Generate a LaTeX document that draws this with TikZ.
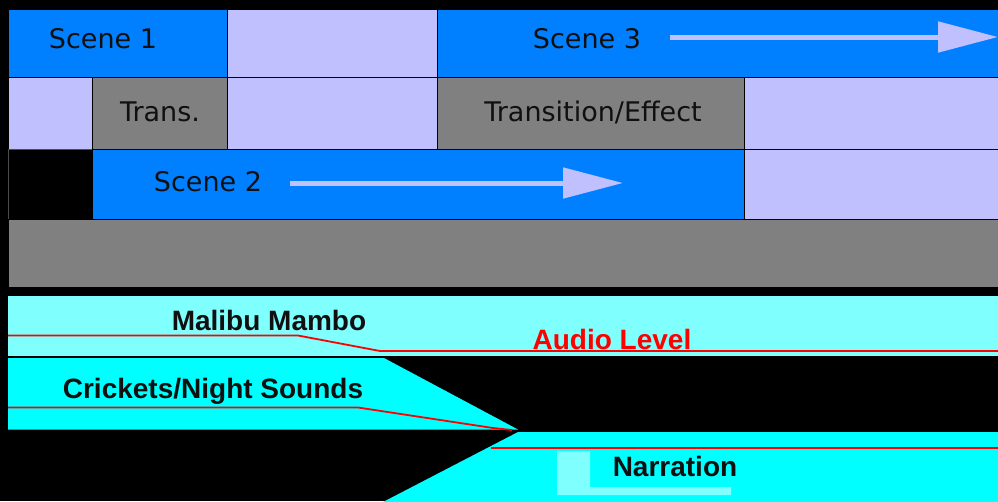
\documentclass[tikz,border=0pt]{standalone}
\usepackage{fontspec}
\setmainfont{DejaVu Sans}
\newfontfamily\boldlab{Liberation Sans}[BoldFont={Liberation Sans Bold}]
\usetikzlibrary{arrows.meta}
\definecolor{sblue}{RGB}{0,128,255}
\definecolor{lav}{RGB}{192,192,255}
\definecolor{tgrey}{RGB}{128,128,128}
\definecolor{lcyan}{RGB}{128,255,255}
\definecolor{acyan}{RGB}{0,255,255}
\definecolor{alred}{RGB}{255,0,0}
\definecolor{txt}{RGB}{16,16,16}
\tikzset{
  cell/.style={draw=black, line width=1pt},
  vlab/.style={font=\fontsize{27}{30}\selectfont, text=txt, inner sep=0pt},
  alab/.style={font=\boldlab\bfseries\fontsize{28}{30}\selectfont, text=txt, inner sep=0pt},
  level/.style={draw=alred, line width=1.8pt},
  sarrow/.style={draw=lav, line width=5pt, -{Triangle[length=60pt,width=30pt]}}
}
\begin{document}
\begin{tikzpicture}[x=1pt,y=-1pt]
\fill[black] (0,0) rectangle (998,501);
\useasboundingbox (0,0) rectangle (998,501);
% row 1
\filldraw[cell, fill=sblue] (8,9.5) rectangle (227.5,77);
\filldraw[cell, fill=lav] (227.5,9.5) rectangle (437.5,77);
\filldraw[cell, fill=sblue] (437.5,9.5) rectangle (1000,77);
% row 2
\filldraw[cell, fill=lav] (8,77) rectangle (92.5,149);
\filldraw[cell, fill=tgrey] (92.5,77) rectangle (227.5,149);
\filldraw[cell, fill=lav] (227.5,77) rectangle (437.5,149);
\filldraw[cell, fill=tgrey] (437.5,77) rectangle (744.5,149);
\filldraw[cell, fill=lav] (744.5,77) rectangle (1000,149);
% row 3
\filldraw[draw=black!70, line width=1pt, fill=black] (8,149) rectangle (92.5,219);
\filldraw[cell, fill=sblue] (92.5,149) rectangle (744.5,219);
\filldraw[cell, fill=lav] (744.5,149) rectangle (1000,219);
% row 4
\filldraw[cell, fill=tgrey] (8,219) rectangle (1000,287);
% labels
\node[vlab] (s1) at (103,39) {Scene 1};
\node[vlab] (s3) at (587,39) {Scene 3};
\node[vlab] (tr) at (160,112) {Trans.};
\node[vlab] (te) at (593,112) {Transition/Effect};
\node[vlab] (s2) at (208,182) {Scene 2};
% arrows
\coordinate (a3s) at (670,37);
\coordinate (a3e) at (998,37);
\coordinate (a2s) at (290,183);
\coordinate (a2e) at (623,183);
\draw[sarrow] (a3s) -- (a3e);
\draw[sarrow] (a2s) -- (a2e);
% audio tracks
\fill[lcyan] (8,296) rectangle (1000,356);
\fill[acyan] (8,358) -- (384,358) -- (518,429.5) -- (8,429.5) -- cycle;
\fill[acyan] (383,502) -- (518,432) -- (1000,432) -- (1000,502) -- cycle;
\fill[lcyan] (557,451) -- (590,451) -- (590,487) -- (731,487) -- (731,495) -- (557,495) -- cycle;
% level lines
\coordinate (m0) at (8,335.5);
\coordinate (m1) at (298,335.5);
\coordinate (m2) at (380,351);
\coordinate (m3) at (1000,351);
\draw[level] (m0) -- (m1) -- (m2) -- (m3);
\coordinate (c0) at (8,407.5);
\coordinate (c1) at (358,407.5);
\coordinate (c2) at (493,428);
\coordinate (c3) at (512,430);
\draw[level] (c0) -- (c1) -- (c2) -- (c3);
\coordinate (n0) at (491,448);
\coordinate (n1) at (1000,448);
\draw[level] (n0) -- (n1);
% audio labels
\node[alab] (mm) at (269,320) {Malibu Mambo};
\node[alab, text=alred] (al) at (612,339) {Audio Level};
\node[alab] (cn) at (213,391) {Crickets/Night Sounds};
\node[alab] (na) at (675,466) {Narration};
\end{tikzpicture}
\end{document}
